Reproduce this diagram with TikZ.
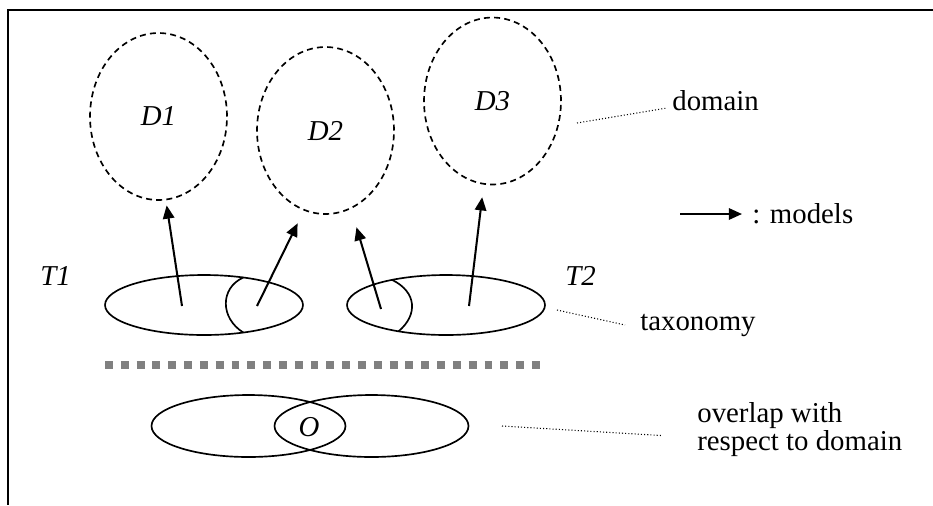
\documentclass[tikz,border=0pt]{standalone}
\usepackage{fontspec}
\setmainfont{Liberation Serif}
\usetikzlibrary{arrows.meta, positioning, shapes.geometric, calc}
\newcommand{\figfont}{\fontsize{16.4}{16.1}\selectfont}

\begin{document}
\begin{tikzpicture}[
  x=0.02cm, y=-0.02cm,
  >={Triangle[length=7.5pt, width=6.5pt]},
  font=\figfont,
  % Node styles
  domainell/.style={ellipse, draw, line width=0.95pt, dash pattern=on 3.4pt off 2.4pt,
    minimum width=2.74cm, minimum height=3.34cm, inner sep=0pt, outer sep=0pt, font=\figfont\itshape},
  taxell/.style={ellipse, draw, line width=0.95pt, minimum width=3.96cm, minimum height=1.2cm, inner sep=0pt, outer sep=0pt},
  overell/.style={ellipse, draw, line width=0.95pt, minimum width=3.88cm, minimum height=1.24cm, inner sep=0pt, outer sep=0pt},
  tname/.style={anchor=base west, inner sep=0pt, font=\figfont\itshape},
  note/.style={anchor=base west, inner sep=0pt},
  % Line styles
  models/.style={->, line width=1.15pt},
  split/.style={line width=0.95pt},
  leader/.style={line width=0.6pt, dash pattern=on 0.6pt off 1.2pt},
  divider/.style={draw=black!50, line width=4pt, dash pattern=on 4.5pt off 4.5pt},
  frame/.style={line width=1.15pt}
]
\useasboundingbox (0,0) rectangle (933,505);

% ------------------------------------------------------------
% Frame (top and left edge only)
% ------------------------------------------------------------
\draw[frame] (933,10) -- (8,10) -- (8,505);

% ------------------------------------------------------------
% Domains
% ------------------------------------------------------------
\node[domainell] (D1) at (158.5,116.5) {D1};
\node[domainell] (D2) at (325.5,130.5) {D2};
\node[domainell] (D3) at (492.5,101)   {D3};

% ------------------------------------------------------------
% Taxonomies
% ------------------------------------------------------------
\node[taxell] (T1) at (204,305) {};
\node[taxell] (T2) at (446,305) {};

\node[tname] (T1_name) at (40,285)  {T1};
\node[tname] (T2_name) at (565,285) {T2};

% split lines inside the taxonomies
\draw[split] (T1.35) .. controls (220,288) and (220,318) .. (T1.-35);
\draw[split] (T2.155) .. controls (417,292) and (418,315) .. (T2.209);

% tails of the model arrows
\coordinate (t1a) at ($(T1)+(-22,1)$);
\coordinate (t1b) at ($(T1)+(53,1)$);
\coordinate (t2a) at ($(T2)+(-65,4)$);
\coordinate (t2b) at ($(T2)+(23,1)$);

\draw[models, shorten >=0.12cm] (t1a) -- (D1.275);
\draw[models, shorten >=0.3cm]  (t1b) -- (D2.255);
\draw[models, shorten >=0.4cm]  (t2a) -- (D2.288);
\draw[models, shorten >=0.27cm] (t2b) -- (D3.264);

% ------------------------------------------------------------
% Divider
% ------------------------------------------------------------
\coordinate (div_l) at (105,365);
\coordinate (div_r) at (545,365);
\draw[divider] (div_l) -- (div_r);

% ------------------------------------------------------------
% Overlap
% ------------------------------------------------------------
\node[overell] (O_l) at (248.5,426) {};
\node[overell] (O_r) at (371.5,426) {};
\node[font=\figfont\itshape, inner sep=0pt] (O) at (309,427) {O};

% ------------------------------------------------------------
% Legend / explanations
% ------------------------------------------------------------
\node[note] (domlabel) at (672,110) {domain};
\coordinate (D3_lead) at (577,123);
\draw[leader] (D3_lead) -- ([xshift=-0.1cm, yshift=0.04cm]domlabel.base west);

\coordinate (leg_a) at (680,214);
\coordinate (leg_b) at (742,214);
\draw[models] (leg_a) -- (leg_b);
\node[note] (modlabel) at (752,223) {: models};

\node[note] (taxlabel) at (640,330) {taxonomy};
\coordinate (T2_lead) at ($(T2.east)+(12,5)$);
\draw[leader] (T2_lead) -- ([xshift=-0.3cm, yshift=0.1cm]taxlabel.base west);

\node[anchor=north west, inner sep=0pt, align=left] (ovlabel) at (697,402) {overlap with\\respect to domain};
\coordinate (O_lead) at (502,426);
\draw[leader] (O_lead) -- ([xshift=-0.7cm, yshift=-0.12cm]ovlabel.west);

\end{tikzpicture}
\end{document}
